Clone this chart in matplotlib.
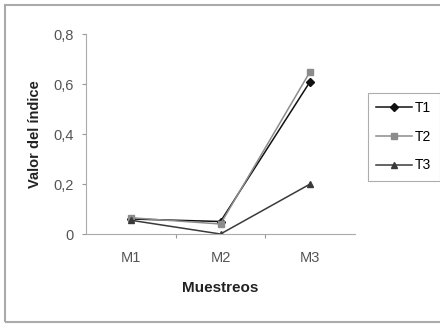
import matplotlib
matplotlib.use('Agg')
import matplotlib.pyplot as plt
from matplotlib.patches import Rectangle

plt.rcParams['font.family'] = ['Liberation Sans', 'DejaVu Sans']

# data
muestreos = ['M1', 'M2', 'M3']
t1 = [0.06, 0.05, 0.61]
t2 = [0.065, 0.04, 0.65]
t3 = [0.055, 0.0, 0.20]
yticks = [0, 0.2, 0.4, 0.6, 0.8]
ylabels = ['0', '0,2', '0,4', '0,6', '0,8']

fig = plt.figure(figsize=(4.4, 3.24), dpi=100)
ax = fig.add_axes([86/440, 1 - 234/324, 269/440, 200/324])

x = range(len(muestreos))
ax.plot(x, t1, color='#111111', lw=1.1, marker='D', ms=4.5, label='T1')
ax.plot(x, t2, color='#8c8c8c', lw=1.1, marker='s', ms=4.5, label='T2')
ax.plot(x, t3, color='#3a3a3a', lw=1.1, marker='^', ms=5, label='T3')

ax.set_xlim(-0.5, 2.5)
ax.set_ylim(0, 0.8)
ax.set_xticks([0.5, 1.5])
ax.set_xticklabels([])
ax.set_xticks(list(x), minor=True)
ax.set_xticklabels(muestreos, minor=True)
ax.tick_params(axis='x', which='minor', length=0, pad=12)
ax.tick_params(axis='x', which='major', length=3, color='#999999', direction='out')
ax.set_yticks(yticks)
ax.set_yticklabels(ylabels)
ax.tick_params(axis='y', length=3, color='#999999', pad=6)
for lab in ax.get_xticklabels(minor=True) + ax.get_yticklabels():
    lab.set_fontsize(10.5)
    lab.set_color('#555555')

for s in ['top', 'right']:
    ax.spines[s].set_visible(False)
for s in ['left', 'bottom']:
    ax.spines[s].set_color('#aaaaaa')
    ax.spines[s].set_linewidth(0.8)

ax.set_xlabel('Muestreos', fontsize=11, fontweight='bold', labelpad=12, color='#222222')
ax.set_ylabel('Valor del índice', fontsize=10.5, fontweight='bold', labelpad=8, color='#222222')

leg = ax.legend(loc='upper left', bbox_to_anchor=(368/440, 1 - 93/324),
                bbox_transform=fig.transFigure, frameon=True, fancybox=False,
                fontsize=10, handlelength=2.6, labelspacing=1.05, borderpad=0.6,
                handletextpad=0.2, borderaxespad=0)
leg.get_frame().set_edgecolor('#999999')
leg.get_frame().set_linewidth(0.8)

fig.patches.append(Rectangle((5/440, 2/324), 1.0, 317/324, transform=fig.transFigure,
                             fill=False, edgecolor='#aaaaaa', lw=1.5))

fig.savefig('out.png', dpi=100)
